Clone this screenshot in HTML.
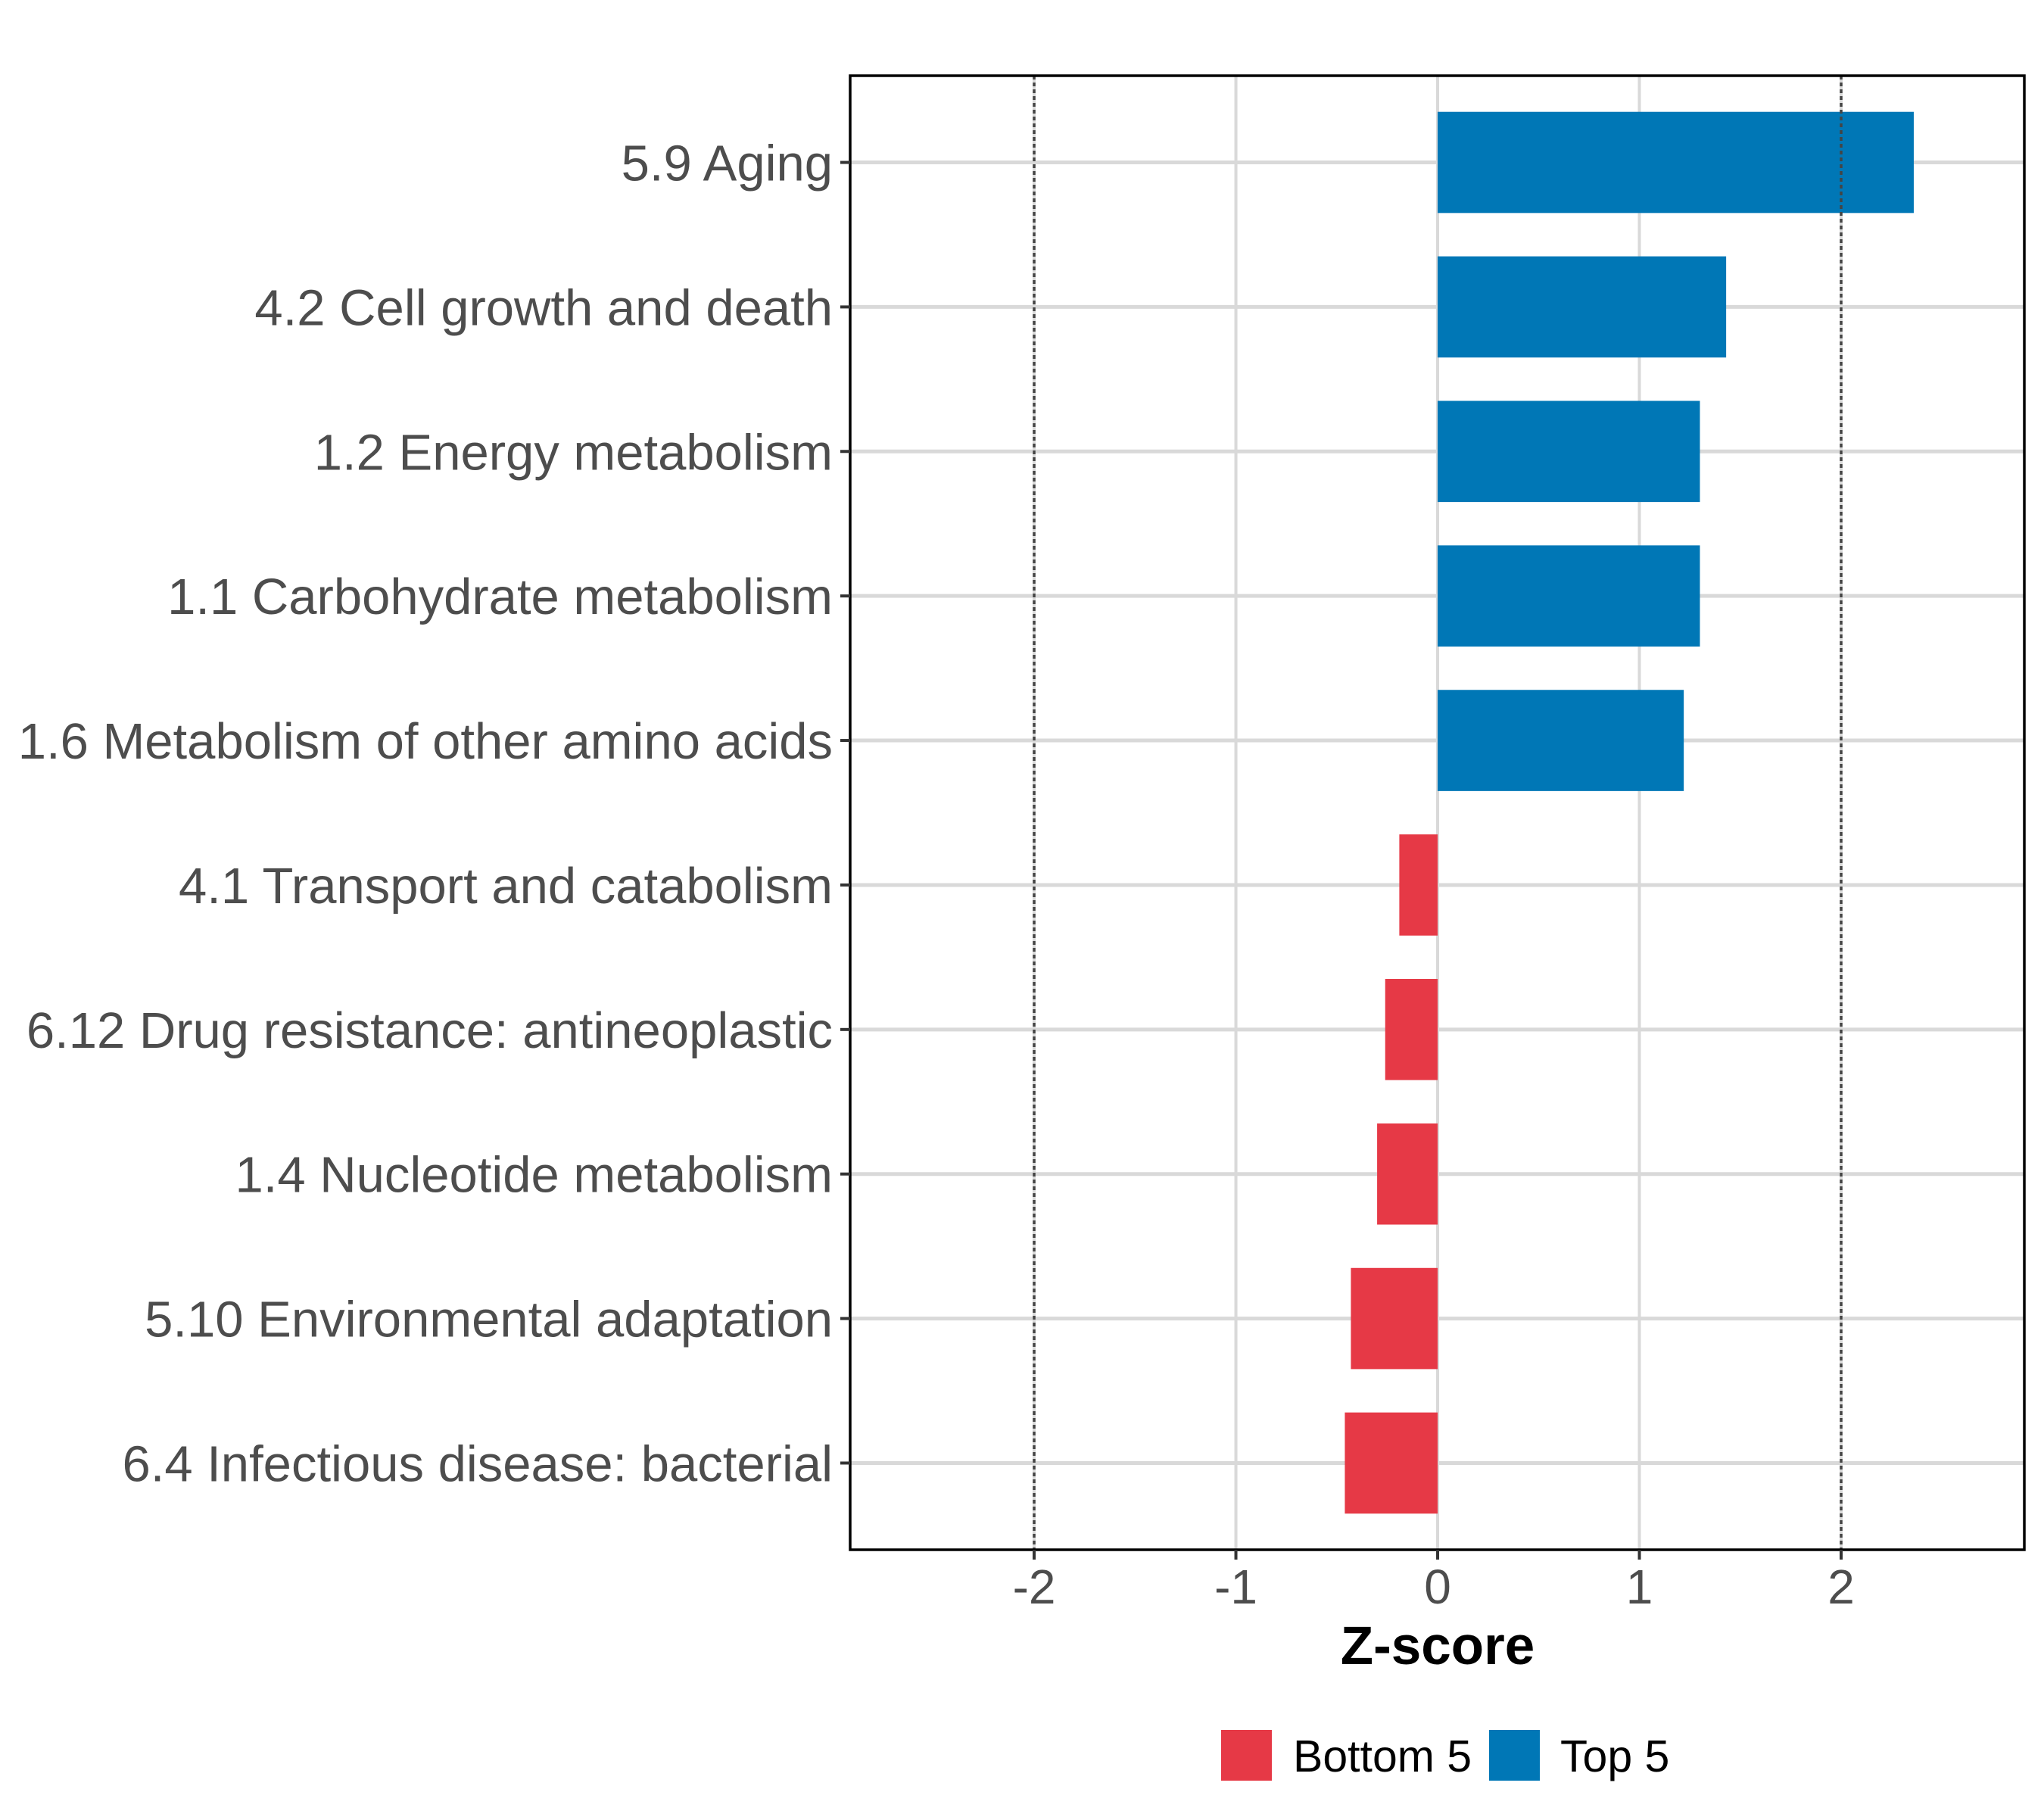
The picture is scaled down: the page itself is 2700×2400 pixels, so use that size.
<!DOCTYPE html>
<html><head><meta charset="utf-8"><style>
html,body{margin:0;padding:0;background:#fff;}
svg{display:block;}
text{font-family:"Liberation Sans",Arial,sans-serif;}
</style></head><body>
<svg id="chart" xmlns="http://www.w3.org/2000/svg" width="2700" height="2400" viewBox="0 0 2700 2400"></svg>
<script>
const categories = ["5.9 Aging","4.2 Cell growth and death","1.2 Energy metabolism","1.1 Carbohydrate metabolism","1.6 Metabolism of other amino acids","4.1 Transport and catabolism","6.12 Drug resistance: antineoplastic","1.4 Nucleotide metabolism","5.10 Environmental adaptation","6.4 Infectious disease: bacterial"];
const zscores = [2.36, 1.43, 1.30, 1.30, 1.22, -0.19, -0.26, -0.30, -0.43, -0.46];
const groups = ["Top 5","Top 5","Top 5","Top 5","Top 5","Bottom 5","Bottom 5","Bottom 5","Bottom 5","Bottom 5"];
const xTicks = [-2, -1, 0, 1, 2];
const xTickLabels = ["-2","-1","0","1","2"];
const refLines = [-2, 2];
const legendLabels = ["Bottom 5","Top 5"];

const NS = "http://www.w3.org/2000/svg";
const svg = document.getElementById('chart');
const P = {l:1123, r:2674, t:100, b:2047};
const colors = {"Bottom 5":"#E63946","Top 5":"#0077B6"};
const xMin=-2.912, xMax=2.908;
function xs(v){return P.l + (v-xMin)/(xMax-xMin)*(P.r-P.l);}
const step = (P.b-P.t)/(categories.length-1+1.2);
function ys(i){return P.t + 0.6*step + i*step;}
function mk(tag, attrs, parent){const e=document.createElementNS(NS,tag);for(const k in attrs)e.setAttribute(k,attrs[k]);(parent||svg).appendChild(e);return e;}

const grid = mk('g',{});


xTicks.forEach(v=>{const l=mk('line',{x1:xs(v),x2:xs(v),y1:P.t,y2:P.b,stroke:'#d9d9d9','stroke-width':4},grid);

});
categories.forEach((c,i)=>{const l=mk('line',{x1:P.l,x2:P.r,y1:ys(i),y2:ys(i),stroke:'#d9d9d9','stroke-width':5},grid);

});

const bars = mk('g',{});


const bh = step*0.7;
zscores.forEach((v,i)=>{
  const x0=Math.min(xs(0),xs(v)), w=Math.abs(xs(v)-xs(0));
  const r=mk('rect',{x:x0,y:ys(i)-bh/2,width:w,height:bh,fill:colors[groups[i]]},bars);
  
  
});

refLines.forEach(v=>{const l=mk('line',{x1:xs(v),x2:xs(v),y1:P.t,y2:P.b,stroke:'#444','stroke-width':3.5,'stroke-dasharray':'5 4'});

});

const frame=mk('rect',{x:P.l,y:P.t,width:P.r-P.l,height:P.b-P.t,fill:'none',stroke:'#000','stroke-width':3.5});



const yax = mk('g',{});


categories.forEach((c,i)=>{
  const t=mk('line',{x1:P.l-13,x2:P.l,y1:ys(i),y2:ys(i),stroke:'#333','stroke-width':4},yax);
  
  
  const tx=mk('text',{x:1100,y:ys(i)+24,'text-anchor':'end','font-size':67,fill:'#4d4d4d'},yax);
  tx.textContent=c;
  
  
});

const xax = mk('g',{});


xTicks.forEach((v,i)=>{
  const t=mk('line',{x1:xs(v),x2:xs(v),y1:P.b,y2:P.b+13,stroke:'#333','stroke-width':4},xax);
  
  
  const tx=mk('text',{x:xs(v),y:2118,'text-anchor':'middle','font-size':64,fill:'#4d4d4d'},xax);
  tx.textContent=xTickLabels[i];
  
  
});
const xt=mk('text',{x:xs(0),y:2198,'text-anchor':'middle','font-size':71,'font-weight':'bold',fill:'#000'});
xt.textContent='Z-score';



const leg = mk('g',{});


const legX=[1613,1967], legTX=[1708,2061];
legendLabels.forEach((lab,i)=>{
  const r=mk('rect',{x:legX[i],y:2285,width:67,height:67,fill:colors[lab]},leg);
  
  
  const t=mk('text',{x:legTX[i],y:2340,'font-size':59,fill:'#000'},leg);
  t.textContent=lab;
  
  
});
</script>
</body></html>
